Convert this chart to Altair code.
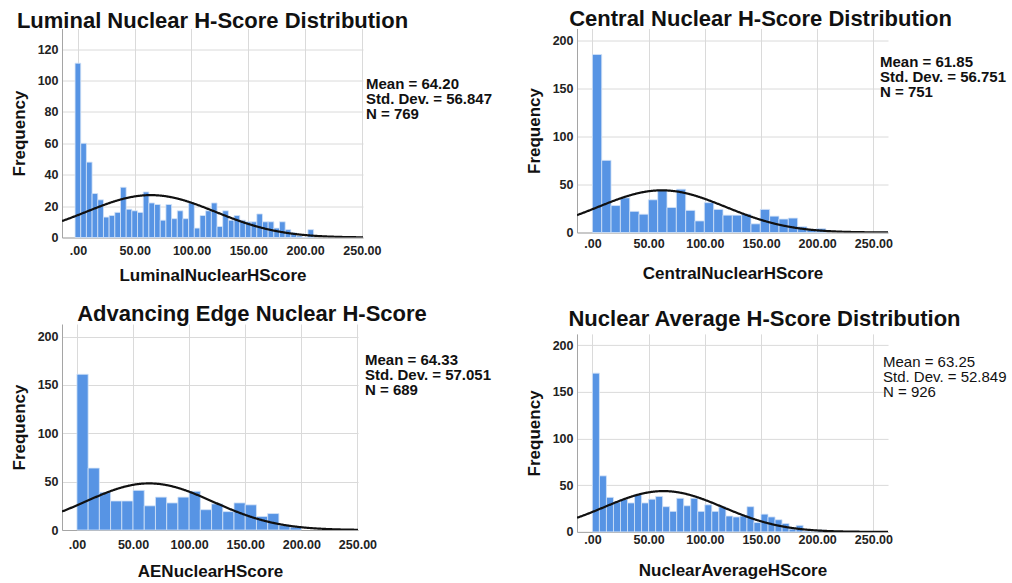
import altair as alt
import pandas as pd

FONT = "Liberation Sans"
BAR_BLUE = "#5794e4"
BAR_EDGE = "#d4e3f7"
GRID = "#dadada"

titles = [
    "Luminal Nuclear H-Score Distribution",
    "Central Nuclear H-Score Distribution",
    "Advancing Edge Nuclear H-Score",
    "Nuclear Average H-Score Distribution",
]
variables = [
    "LuminalNuclearHScore",
    "CentralNuclearHScore",
    "AENuclearHScore",
    "NuclearAverageHScore",
]
means = [64.20, 61.85, 64.33, 63.25]
std_devs = [56.847, 56.751, 57.051, 52.849]
ns = [769, 751, 689, 926]

# histogram bins: start of the first bin and bin width (H-score units)
bin_starts = [-2.5, 0, 0, 0]
bin_widths = [5, 8.3, 10, 6.25]

luminal_counts = [111, 60, 48, 28, 24, 13, 14, 16, 32, 18, 17, 16, 29, 22, 21,
                  11, 21, 12, 17, 12, 22, 6, 14, 17, 22, 7, 17, 11, 14, 11,
                  10, 10, 15, 10, 10, 6, 10, 5, 3, 1, 0, 5]
central_counts = [185, 75, 28, 36, 22, 19, 34, 44, 26, 45, 23, 12, 31, 24, 18,
                  18, 19, 9, 24, 17, 14, 15, 6, 3, 4]
ae_counts = [161, 64, 39, 30, 30, 41, 25, 34, 28, 34, 40, 21, 27, 19, 28,
             26, 14, 17, 5, 3]
average_counts = [170, 60, 37, 32, 35, 31, 40, 31, 35, 38, 27, 22, 36, 28, 36,
                  22, 29, 22, 27, 17, 16, 17, 27, 10, 19, 16, 13, 9, 3, 7,
                  1, 0, 2]
all_counts = [luminal_counts, central_counts, ae_counts, average_counts]

x_ticks = [0, 50, 100, 150, 200, 250]
y_ticks_small = [0, 20, 40, 60, 80, 100, 120]
y_ticks_large = [0, 50, 100, 150, 200]


def panel(i, width, height, x_domain, y_domain, y_ticks, title_offset, title_dx,
          x_label_pad, x_title_pad, text_x, text_y, text_weight):
    counts = all_counts[i]
    start, bw = bin_starts[i], bin_widths[i]
    bins = pd.DataFrame({
        "lo": [start + k * bw for k in range(len(counts))],
        "hi": [start + (k + 1) * bw for k in range(len(counts))],
        "count": counts,
    })

    x_axis = alt.Axis(
        values=x_ticks, title=variables[i], grid=True, gridColor=GRID,
        ticks=False, labelPadding=x_label_pad, titlePadding=x_title_pad,
        domainColor="#a5a5a5",
        labelFontSize=12.5, labelFontWeight="bold", labelColor="#222222",
        titleFontSize=17, titleFontWeight="bold", titleColor="#111111",
        labelFlush=False, labelOverlap=False,
        labelExpr="datum.value == 0 ? '.00' : format(datum.value, '.2f')",
    )
    y_axis = alt.Axis(
        values=y_ticks, title="Frequency", grid=True, gridColor=GRID,
        ticks=False, labelPadding=4, titlePadding=9, domainColor="#a5a5a5",
        labelFontSize=12.5, labelFontWeight="bold", labelColor="#222222",
        titleFontSize=17, titleFontWeight="bold", titleColor="#111111",
    )
    x_scale = alt.Scale(domain=x_domain, nice=False, zero=False)
    y_scale = alt.Scale(domain=y_domain, nice=False)

    bars = alt.Chart(bins).mark_bar(
        color=BAR_BLUE, stroke=BAR_EDGE, strokeWidth=0.8
    ).encode(
        x=alt.X("lo:Q", scale=x_scale, axis=x_axis),
        x2="hi:Q",
        y=alt.Y("count:Q", scale=y_scale, axis=y_axis),
        y2=alt.datum(0),
    )

    # normal curve scaled to counts per bin: N * width * pdf(x)
    curve = alt.Chart(
        alt.sequence(x_domain[0], x_domain[1] + 0.5, 0.5, as_="lo")
    ).transform_calculate(
        count=f"{ns[i]} * {bw} * densityNormal(datum.lo, {means[i]}, {std_devs[i]})"
    ).mark_line(color="#111111", strokeWidth=2.2, clip=True).encode(
        x=alt.X("lo:Q", scale=x_scale, axis=x_axis),
        y=alt.Y("count:Q", scale=y_scale, axis=y_axis),
    )

    stats = pd.DataFrame({"t": [
        f"Mean = {means[i]:.2f}\nStd. Dev. = {std_devs[i]:.3f}\nN = {ns[i]}"
    ]})
    label = alt.Chart(stats).mark_text(
        align="left", baseline="top", lineBreak="\n", lineHeight=15,
        fontSize=15, fontWeight=text_weight, color="#111111",
    ).encode(text="t:N", x=alt.value(text_x), y=alt.value(text_y))

    return alt.layer(bars, curve, label).properties(
        width=width, height=height,
        title=alt.TitleParams(
            titles[i], fontSize=22, fontWeight="bold", anchor="middle",
            offset=title_offset, dx=title_dx, color="#111111",
        ),
    )


p1 = panel(0, 301, 209, [-14, 251], [0, 133.1], y_ticks_small, -4, 0, 7, 10,
           304, 48, "bold")
p2 = panel(1, 311, 204, [-13.7, 263], [0, 212], y_ticks_large, -2.5, 28, 5, 15,
           303, 26, "bold")
p3 = panel(2, 296, 206, [-13.3, 250.5], [0, 213], y_ticks_large, -2, 42, 8, 13,
           303, 28.5, "bold")
p4 = panel(3, 311, 198, [-13.7, 263], [0, 212], y_ticks_large, 3, 32, 2, 16,
           306, 21.5, "normal")

left = alt.vconcat(p1, p3, spacing=19.5)
right = alt.vconcat(p2, p4, spacing=26.4)

chart = alt.concat(left, right, columns=2, align="none", spacing=32).properties(
    padding={"left": 10, "top": 7.5, "right": 2, "bottom": 2}
).configure(font=FONT).configure_view(strokeWidth=0)

chart.save("out.html", embed_options={"renderer": "svg", "actions": False})
